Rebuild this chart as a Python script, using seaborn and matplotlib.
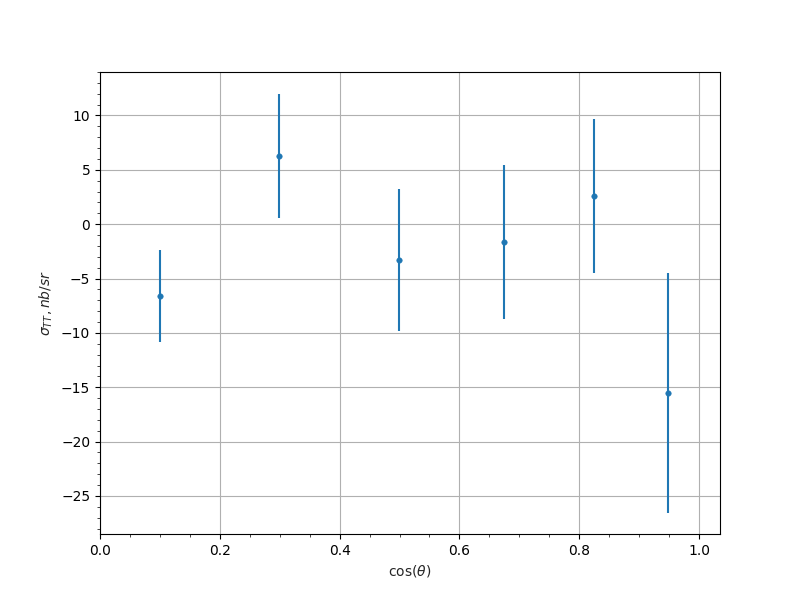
import numpy as np
import seaborn as sns
import matplotlib
matplotlib.use("Agg")
import matplotlib.pyplot as plt

# cos(theta) bins and measured cross section with errors
cos_theta = [0.1, 0.299, 0.499, 0.674, 0.825, 0.948]
sigma_tt = [-6.6, 6.3, -3.3, -1.65, 2.57, -15.5]
sigma_err = [4.2, 5.72, 6.52, 7.1, 7.07, 11.05]

sns.set_style("ticks")
plt.rcParams.update({"axes.spines.top": True, "axes.spines.right": True})

fig, ax = plt.subplots(figsize=(8, 6), dpi=100)
ax.errorbar(cos_theta, sigma_tt, yerr=sigma_err, fmt="none", ecolor="#1f77b4", lw=1.5)
sns.scatterplot(x=cos_theta, y=sigma_tt, ax=ax, color="#1f77b4", s=16, edgecolor="#1f77b4", zorder=3)

ax.set_xlim(0, 1.035)
ax.set_ylim(-28.5, 14.0)
ax.minorticks_on()
ax.grid(True, which="major", color="#b0b0b0", lw=0.8)
ax.set_axisbelow(True)
for s in ax.spines.values():
    s.set_color("black")
    s.set_linewidth(0.8)
ax.tick_params(colors="black", direction="out")
ax.set_xlabel(r"$\cos(\theta)$")
ax.set_ylabel(r"$\sigma_{TT}, nb/sr$")

fig.savefig("out.png", dpi=100)
